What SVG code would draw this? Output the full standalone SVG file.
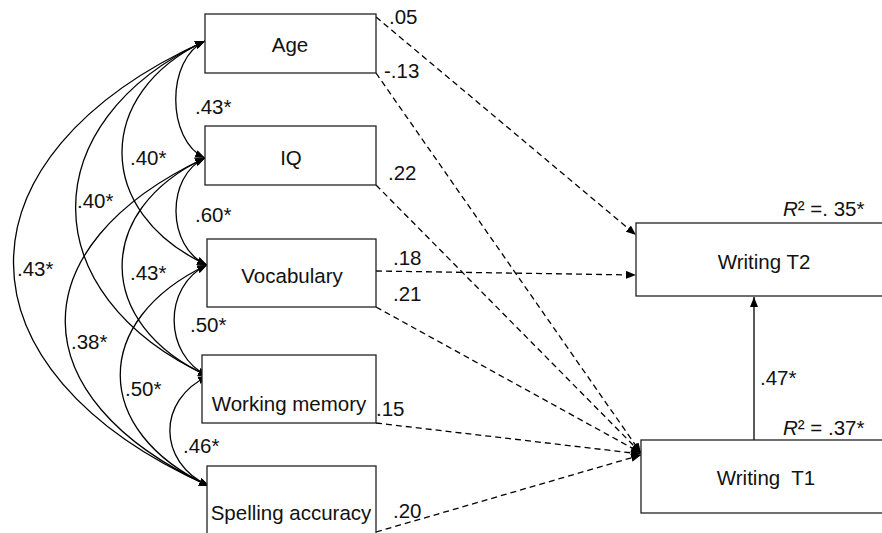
<svg xmlns="http://www.w3.org/2000/svg" width="882" height="533" viewBox="0 0 882 533">
<style>
.box{fill:#fff;stroke:#222;stroke-width:1.3}
text{font-family:"Liberation Sans",Arial,sans-serif;font-size:20.5px;fill:#111}
.nt{text-anchor:middle}
.arc{fill:none;stroke:#000;stroke-width:1.3;marker-start:url(#ah);marker-end:url(#ah)}
.dash{fill:none;stroke:#000;stroke-width:1.3;stroke-dasharray:6 4;marker-end:url(#ah)}
.solid{fill:none;stroke:#000;stroke-width:1.3;marker-end:url(#ah)}
</style>
<defs>
<marker id="ah" viewBox="0 0 10 8" refX="10" refY="4" markerWidth="10" markerHeight="8" orient="auto-start-reverse" markerUnits="userSpaceOnUse">
<path d="M0,0 L10,4 L0,8 z" fill="#000"/>
</marker>
</defs>
<rect width="882" height="533" fill="#fff"/>

<g id="connectors">
<!-- correlations -->
<path class="arc" d="M205,41 C166,59 166,140 205,158"/>
<path class="arc" d="M205,158 C166,176 166,247 207,265"/>
<path class="arc" d="M207,265 C163,286 163,355 208,376"/>
<path class="arc" d="M208,376 C157,400 157,462 209,486"/>
<path class="arc" d="M205,41 C94,93 94,213 207,265"/>
<path class="arc" d="M205,158 C94,210 94,324 208,376"/>
<path class="arc" d="M207,265 C91,320 91,431 209,486"/>
<path class="arc" d="M205,41 C32,122 32,295 208,376"/>
<path class="arc" d="M205,158 C18,246 18,398 209,486"/>
<path class="arc" d="M205,41 C-51,157 -51,370 209,486"/>
<!-- paths -->
<path class="dash" d="M376,17 L636,235"/>
<path class="dash" d="M376,73 L641,453"/>
<path class="dash" d="M376,185 L641,453"/>
<path class="dash" d="M376,271 L636,275"/>
<path class="dash" d="M376,307 L641,453"/>
<path class="dash" d="M376,423 L641,454"/>
<path class="dash" d="M376,532 L641,455"/>
<path class="solid" d="M754,440 L754,297"/>
</g>

<g id="node-age"><rect class="box" x="205" y="14" width="171" height="59"/><text class="nt" x="290" y="52">Age</text></g>
<g id="node-iq"><rect class="box" x="205" y="126" width="171" height="59"/><text class="nt" x="291" y="165">IQ</text></g>
<g id="node-vocabulary"><rect class="box" x="207" y="239" width="169" height="68"/><text class="nt" x="292" y="283">Vocabulary</text></g>
<g id="node-working-memory"><rect class="box" x="202" y="355" width="174" height="68"/><text class="nt" x="289" y="411">Working memory</text></g>
<g id="node-spelling"><rect class="box" x="207" y="466" width="169" height="80"/><text class="nt" x="291" y="520">Spelling accuracy</text></g>
<g id="node-writing-t2"><rect class="box" x="636" y="223" width="260" height="73"/><text class="nt" x="764" y="269">Writing T2</text></g>
<g id="node-writing-t1"><rect class="box" x="641" y="440" width="260" height="73"/><text class="nt" x="766" y="485" xml:space="preserve">Writing  T1</text></g>

<g id="labels">
<text x="195" y="114">.43*</text>
<text x="195" y="222">.60*</text>
<text x="130" y="165">.40*</text>
<text x="77" y="208">.40*</text>
<text x="17" y="276">.43*</text>
<text x="130" y="280">.43*</text>
<text x="71" y="349">.38*</text>
<text x="190" y="332">.50*</text>
<text x="125" y="396">.50*</text>
<text x="183" y="453">.46*</text>
<text x="389" y="24">.05</text>
<text x="384" y="78">-.13</text>
<text x="388" y="180">.22</text>
<text x="393" y="265">.18</text>
<text x="393" y="301">.21</text>
<text x="376" y="416">.15</text>
<text x="393" y="518">.20</text>
<text x="760" y="385">.47*</text>
<text x="783" y="216"><tspan font-style="italic">R</tspan>² =. 35*</text>
<text x="783" y="435"><tspan font-style="italic">R</tspan>² = .37*</text>
</g>
</svg>
